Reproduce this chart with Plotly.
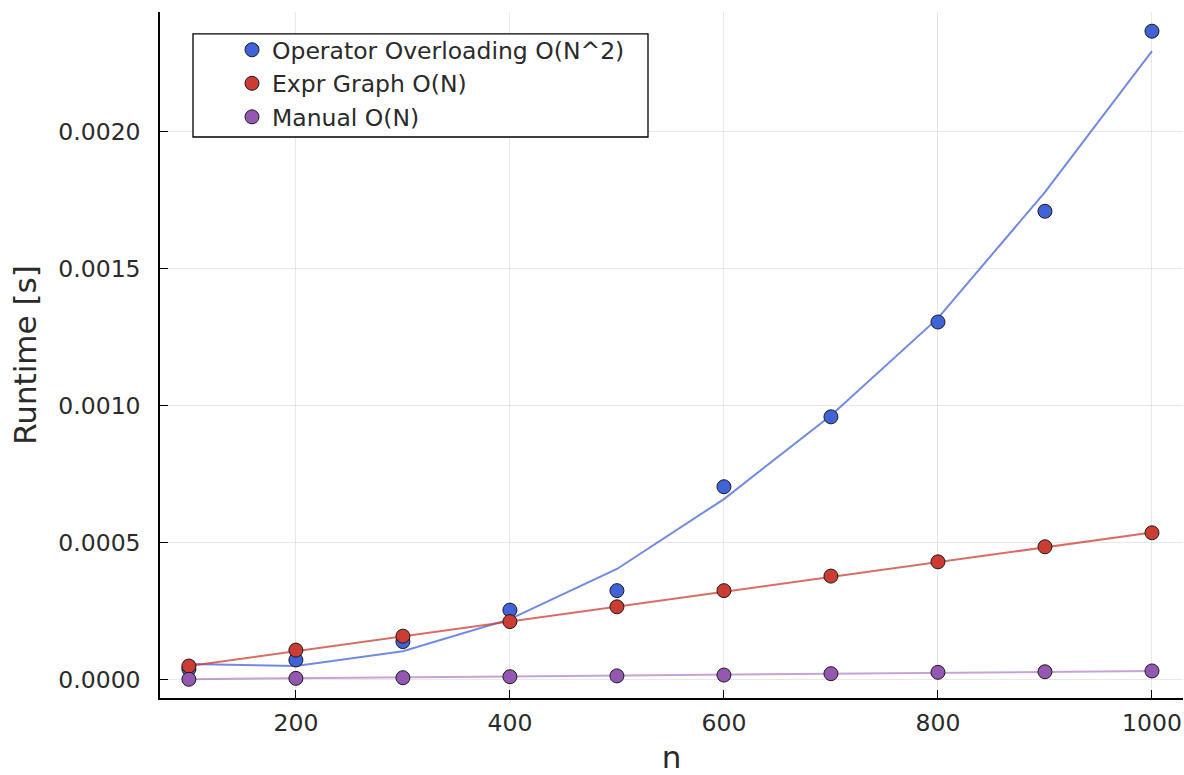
import plotly.graph_objects as go

n = [100, 200, 300, 400, 500, 600, 700, 800, 900, 1000]

# measured runtimes [s]
op_overload = [0.000040, 0.000073, 0.000140, 0.000255, 0.000326, 0.000705, 0.000960, 0.001306, 0.001710, 0.002367]
expr_graph = [0.000051, 0.000109, 0.000160, 0.000213, 0.000267, 0.000326, 0.000379, 0.000431, 0.000486, 0.000537]
manual = [0.0000026, 0.0000060, 0.0000084, 0.0000120, 0.0000150, 0.0000180, 0.0000230, 0.0000280, 0.0000300, 0.0000330]

# fitted curves evaluated at n
op_overload_fit = [0.000058, 0.000051, 0.000105, 0.000222, 0.000405, 0.000660, 0.000965, 0.001320, 0.001780, 0.002294]
expr_graph_fit = [0.000051, 0.000105, 0.000159, 0.000213, 0.000267, 0.000321, 0.000375, 0.000430, 0.000484, 0.000538]
manual_fit = [0.0000030, 0.0000063, 0.0000096, 0.0000129, 0.0000162, 0.0000195, 0.0000228, 0.0000261, 0.0000294, 0.0000327]

names = ["Operator Overloading O(N^2)", "Expr Graph O(N)", "Manual O(N)"]
x_ticks = [200, 400, 600, 800, 1000]
y_ticks = [0.0, 0.0005, 0.0010, 0.0015, 0.0020]

BLUE = "#4063D8"
RED = "#CB3C33"
PURPLE = "#9558B2"
FONT = "DejaVu Sans"
TXT = "#2a2a2a"

fig = go.Figure()

fits = [(op_overload_fit, "rgba(64,99,216,0.75)"),
        (expr_graph_fit, "rgba(203,60,51,0.75)"),
        (manual_fit, "rgba(149,88,178,0.55)")]
for ys, col in fits:
    fig.add_trace(go.Scatter(x=n, y=ys, mode="lines", line=dict(color=col, width=2),
                             showlegend=False, hoverinfo="skip"))

for ys, col, nm in [(op_overload, BLUE, names[0]), (expr_graph, RED, names[1]), (manual, PURPLE, names[2])]:
    fig.add_trace(go.Scatter(x=n, y=ys, mode="markers", name=nm,
                             marker=dict(color=col, size=14, line=dict(color="#1a1a1a", width=1))))

# legend frame (plot area: 1023 x 686 px)
fig.add_shape(type="rect", xref="paper", yref="paper",
              x0=33 / 1023, x1=488 / 1023, y0=0.8178, y1=0.968,
              fillcolor="white", line=dict(color="black", width=1.3), layer="above")

fig.update_layout(
    width=1184, height=775, autosize=False,
    margin=dict(l=160, r=1, t=12, b=77, autoexpand=False),
    paper_bgcolor="white", plot_bgcolor="white",
    font=dict(family=FONT, size=20, color=TXT),
    legend=dict(x=72 / 1023, y=0.9767, xanchor="left", yanchor="top",
                bgcolor="rgba(0,0,0,0)", borderwidth=0,
                font=dict(family=FONT, size=23.5, color=TXT)),
    xaxis=dict(range=[73, 1029], tickvals=x_ticks, ticktext=[str(v) for v in x_ticks],
               automargin=False, ticklabeloverflow="allow",
               showgrid=True, gridcolor="rgba(0,0,0,0.09)", gridwidth=1,
               zeroline=False, showline=True, linecolor="black", linewidth=1.5,
               ticks="inside", ticklen=8, tickcolor="black", tickwidth=1,
               ticklabelstandoff=3,
               tickfont=dict(family=FONT, size=23.5, color=TXT),
               title=dict(text="n", font=dict(family=FONT, size=31, color=TXT), standoff=19)),
    yaxis=dict(range=[-0.0000657, 0.002437], tickvals=y_ticks, tickformat=".4f",
               automargin=False,
               showgrid=True, gridcolor="rgba(0,0,0,0.09)", gridwidth=1,
               zeroline=False, showline=True, linecolor="black", linewidth=1.5,
               ticks="inside", ticklen=8, tickcolor="black", tickwidth=1,
               ticklabelstandoff=13,
               tickfont=dict(family=FONT, size=23.5, color=TXT),
               title=dict(text="Runtime [s]", font=dict(family=FONT, size=31, color=TXT), standoff=12)),
)

# remove the default 8px page margin so the figure fills the window exactly
fig.write_html("out.html", config={"displayModeBar": False},
               post_script="document.body.style.margin='0';document.body.style.overflow='hidden';")
